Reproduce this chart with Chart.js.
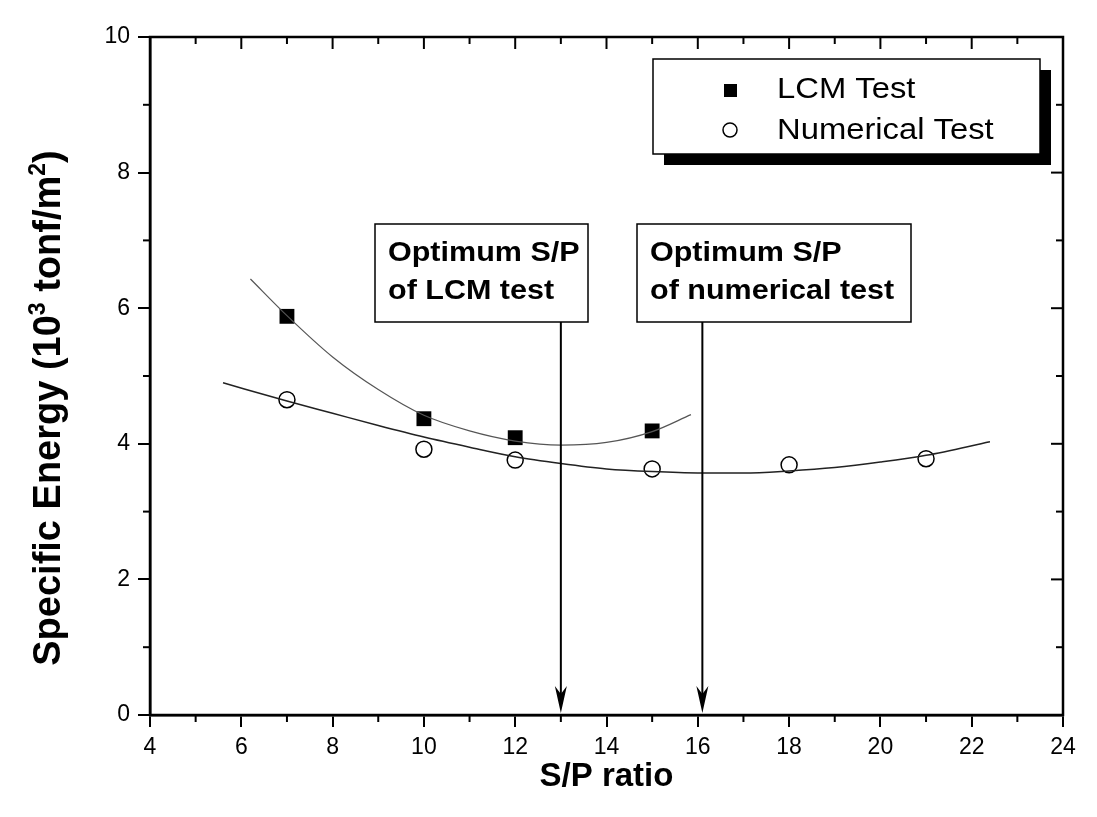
<!DOCTYPE html>
<html>
<head>
<meta charset="utf-8">
<script src="https://cdn.jsdelivr.net/npm/chart.js@4.4.1/dist/chart.umd.min.js"></script>
<style>
  html, body { margin: 0; background: #fff; }
  canvas { display: block; }
</style>
</head>
<body>
<canvas id="chart" width="1097" height="817"></canvas>
<script>
// measured points
const lcmX = [7, 10, 12, 15];
const lcmY = [5.88, 4.37, 4.09, 4.19];
const numX = [7, 10, 12, 15, 18, 21];
const numY = [4.65, 3.92, 3.76, 3.63, 3.69, 3.78];

// fitted curves
const lcmFitX = [6.2, 7, 8, 9, 10, 11, 12, 13, 14, 15, 15.85];
const lcmFitY = [6.43, 5.89, 5.28, 4.80, 4.42, 4.19, 4.04, 3.98, 4.02, 4.18, 4.43];
const numFitX = [5.6, 7, 8, 9, 10, 11, 12, 13, 14, 15, 16, 17, 18, 19, 20, 21, 22.4];
const numFitY = [4.90, 4.63, 4.45, 4.27, 4.10, 3.95, 3.81, 3.71, 3.63, 3.59, 3.57, 3.57, 3.60, 3.65, 3.73, 3.83, 4.03];

// optimum S/P arrows
const optX = [13, 16.1];
const optText = [['Optimum S/P', 'of LCM test'], ['Optimum S/P', 'of numerical test']];

const seriesNames = ['LCM Test', 'Numerical Test'];
const xTitle = 'S/P ratio';

const FONT = "'Liberation Sans', Arial, sans-serif";
Chart.defaults.font.family = FONT;
Chart.defaults.color = '#000';

const pts = (xs, ys) => xs.map((x, i) => ({ x, y: ys[i] }));

function line(ctx, x1, y1, x2, y2) {
  ctx.beginPath();
  ctx.moveTo(x1, y1);
  ctx.lineTo(x2, y2);
  ctx.stroke();
}

// the scanned figure uses a wider face than Liberation Sans
function wideText(ctx, t, x, y, sx) {
  ctx.save();
  ctx.translate(x, y);
  ctx.scale(sx, 1);
  ctx.fillText(t, 0, 0);
  ctx.restore();
}

// frame, minor ticks, annotations, legend, y title
const decor = {
  id: 'decor',
  afterDraw(chart) {
    const { ctx, chartArea: a, scales: { x, y } } = chart;
    ctx.save();
    ctx.strokeStyle = '#000';
    ctx.fillStyle = '#000';

    ctx.lineWidth = 2.5;
    ctx.strokeRect(a.left, a.top, a.right - a.left, a.bottom - a.top);

    ctx.lineWidth = 2;
    for (let v = 4; v <= 24; v++) {
      const px = x.getPixelForValue(v);
      const len = v % 2 === 0 ? 12 : 7;
      line(ctx, px, a.top, px, a.top + len);
      if (v % 2) line(ctx, px, a.bottom, px, a.bottom + 7);
    }
    for (let v = 0; v <= 10; v++) {
      const py = y.getPixelForValue(v);
      const len = v % 2 === 0 ? 12 : 7;
      line(ctx, a.right, py, a.right - len, py);
      if (v % 2) line(ctx, a.left, py, a.left - 7, py);
    }

    // boxes + arrows
    const boxes = [{ l: 375, r: 588 }, { l: 637, r: 911 }];
    const bTop = 224, bBot = 322;
    ctx.font = 'bold 27px ' + FONT;
    ctx.textBaseline = 'alphabetic';
    ctx.textAlign = 'left';
    optX.forEach((v, i) => {
      const b = boxes[i];
      ctx.fillStyle = '#fff';
      ctx.fillRect(b.l, bTop, b.r - b.l, bBot - bTop);
      ctx.lineWidth = 1.5;
      ctx.strokeRect(b.l, bTop, b.r - b.l, bBot - bTop);
      ctx.fillStyle = '#000';
      wideText(ctx, optText[i][0], b.l + 13, bTop + 37, 1.13);
      wideText(ctx, optText[i][1], b.l + 13, bTop + 75, 1.13);

      const px = x.getPixelForValue(v);
      const tip = y.getPixelForValue(0) - 2;
      ctx.lineWidth = 2;
      line(ctx, px, bBot, px, tip - 10);
      ctx.beginPath();
      ctx.moveTo(px, tip);
      ctx.lineTo(px - 6, tip - 27);
      ctx.lineTo(px, tip - 19);
      ctx.lineTo(px + 6, tip - 27);
      ctx.closePath();
      ctx.fill();
    });

    // legend with drop shadow
    const lg = { l: 653, t: 59, w: 387, h: 95, sh: 11 };
    ctx.fillStyle = '#000';
    ctx.fillRect(lg.l + lg.sh, lg.t + lg.sh, lg.w, lg.h);
    ctx.fillStyle = '#fff';
    ctx.fillRect(lg.l, lg.t, lg.w, lg.h);
    ctx.lineWidth = 1.5;
    ctx.strokeRect(lg.l, lg.t, lg.w, lg.h);
    ctx.fillStyle = '#000';
    ctx.fillRect(724, 84, 13, 13);
    ctx.lineWidth = 1.5;
    ctx.beginPath();
    ctx.arc(730, 130, 7, 0, Math.PI * 2);
    ctx.stroke();
    ctx.font = '29px ' + FONT;
    ctx.textBaseline = 'middle';
    wideText(ctx, seriesNames[0], 777, 90, 1.13);
    wideText(ctx, seriesNames[1], 777, 131, 1.13);

    // y title with superscripts
    const parts = [
      ['Specific Energy (10', false], ['3', true], [' tonf/m', false], ['2', true], [')', false]
    ];
    const big = 'bold 38px ' + FONT, small = 'bold 23px ' + FONT;
    let total = 0;
    parts.forEach(([t, s]) => { ctx.font = s ? small : big; total += ctx.measureText(t).width; });
    ctx.translate(60, 408);
    ctx.rotate(-Math.PI / 2);
    ctx.textBaseline = 'alphabetic';
    let cx = -total / 2;
    parts.forEach(([t, s]) => {
      ctx.font = s ? small : big;
      ctx.fillText(t, cx, s ? -15 : 0);
      cx += ctx.measureText(t).width;
    });
    ctx.restore();
  }
};

new Chart(document.getElementById('chart'), {
  type: 'scatter',
  data: {
    datasets: [
      {
        label: 'LCM fit',
        data: pts(lcmFitX, lcmFitY),
        showLine: true,
        borderColor: '#555',
        borderWidth: 1.2,
        pointRadius: 0,
        cubicInterpolationMode: 'monotone'
      },
      {
        label: 'Numerical fit',
        data: pts(numFitX, numFitY),
        showLine: true,
        borderColor: '#222',
        borderWidth: 1.5,
        pointRadius: 0,
        cubicInterpolationMode: 'monotone'
      },
      {
        label: seriesNames[0],
        data: pts(lcmX, lcmY),
        pointStyle: 'rect',
        pointRadius: 10.5,
        backgroundColor: '#000',
        borderColor: '#000',
        borderWidth: 0
      },
      {
        label: seriesNames[1],
        data: pts(numX, numY),
        pointStyle: 'circle',
        pointRadius: 8,
        backgroundColor: '#fff',
        borderColor: '#000',
        borderWidth: 1.5
      }
    ]
  },
  options: {
    responsive: false,
    animation: false,
    layout: { padding: { left: 0, top: 37, right: 34, bottom: 0 } },
    plugins: { legend: { display: false }, tooltip: { enabled: false } },
    scales: {
      x: {
        type: 'linear',
        min: 4, max: 24,
        afterFit: s => { s.height = 102; },
        border: { display: true, color: '#000', width: 2.5 },
        grid: { drawOnChartArea: false, color: '#000', lineWidth: 2, tickLength: 12 },
        ticks: { stepSize: 2, padding: 7, font: { size: 23 }, color: '#000' },
        title: { display: true, text: xTitle, font: { size: 33, weight: 'bold' }, padding: { bottom: 20 }, color: '#000' }
      },
      y: {
        type: 'linear',
        min: 0, max: 10,
        afterFit: s => { s.width = 150; },
        border: { display: true, color: '#000', width: 2.5 },
        grid: { drawOnChartArea: false, color: '#000', lineWidth: 2, tickLength: 12 },
        ticks: { stepSize: 2, padding: 8, font: { size: 23 }, color: '#000' }
      }
    }
  },
  plugins: [decor]
});
</script>
</body>
</html>
